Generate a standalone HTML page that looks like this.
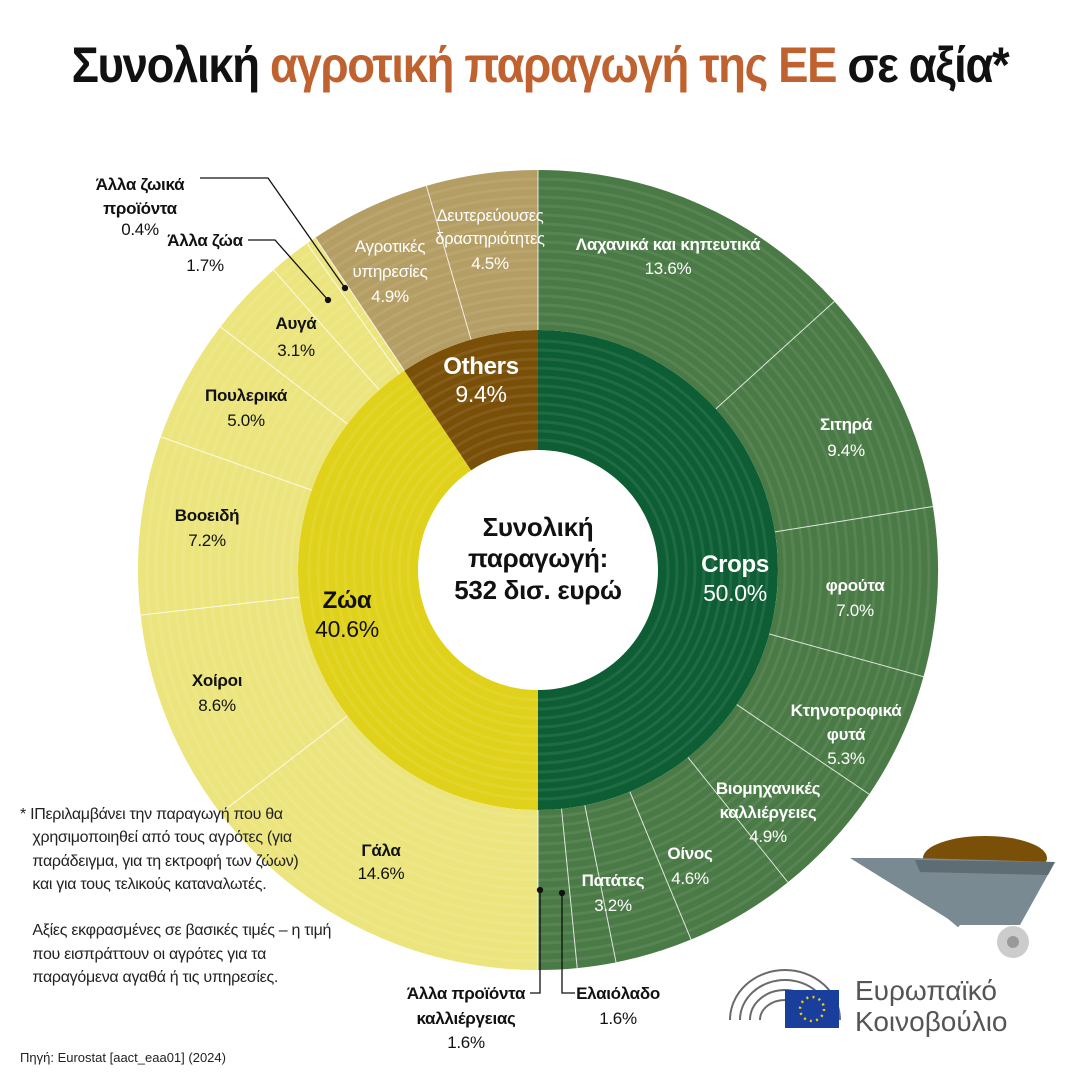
<!DOCTYPE html>
<html><head><meta charset="utf-8">
<style>
html,body{margin:0;padding:0;background:#fff;}
body{width:1080px;height:1080px;position:relative;overflow:hidden;font-family:"Liberation Sans",sans-serif;}
.title{position:absolute;left:0;top:36px;width:1080px;text-align:center;font-size:50px;font-weight:bold;color:#111;letter-spacing:-1.5px;transform:scaleX(0.91);transform-origin:540px 0;}
.title span{color:#c0622f;}
svg text{font-family:"Liberation Sans",sans-serif;}
.foot{position:absolute;left:20px;top:803px;font-size:16px;line-height:23.3px;color:#222;letter-spacing:-0.3px;}
.src{position:absolute;left:20px;top:1050px;font-size:13px;color:#222;}
</style></head><body>
<div class="title">Συνολική <span>αγροτική παραγωγή της ΕΕ</span> σε αξία*</div>
<svg id="chart" width="1080" height="1080" style="position:absolute;left:0;top:0">
<g id="slices"></g>
<g id="rings"></g>
<circle cx="538" cy="570" r="120" fill="#fff"/>
<g font-size="17" text-anchor="middle" fill="#fff" letter-spacing="-0.3">
<text x="668" y="250" font-weight="bold">Λαχανικά και κηπευτικά</text><text x="668" y="274">13.6%</text>
<text x="846" y="430" font-weight="bold">Σιτηρά</text><text x="846" y="456">9.4%</text>
<text x="855" y="591" font-weight="bold">φρούτα</text><text x="855" y="616">7.0%</text>
<text x="846" y="716" font-weight="bold">Κτηνοτροφικά</text><text x="846" y="740" font-weight="bold">φυτά</text><text x="846" y="764">5.3%</text>
<text x="768" y="794" font-weight="bold">Βιομηχανικές</text><text x="768" y="818" font-weight="bold">καλλιέργειες</text><text x="768" y="842">4.9%</text>
<text x="690" y="859" font-weight="bold">Οίνος</text><text x="690" y="884">4.6%</text>
<text x="613" y="886" font-weight="bold">Πατάτες</text><text x="613" y="911">3.2%</text>
<text x="735" y="572" font-size="24" font-weight="bold">Crops</text><text x="735" y="601" font-size="23">50.0%</text>
<text x="481" y="374" font-size="24" font-weight="bold">Others</text><text x="481" y="402" font-size="23">9.4%</text>
<text x="490" y="221" font-size="16.5">Δευτερεύουσες</text><text x="490" y="244" font-size="16.5">δραστηριότητες</text><text x="490" y="269">4.5%</text>
<text x="390" y="252">Αγροτικές</text><text x="390" y="277">υπηρεσίες</text><text x="390" y="302">4.9%</text>
</g>
<g font-size="17" text-anchor="middle" fill="#111" letter-spacing="-0.3">
<text x="347" y="608" font-size="24" font-weight="bold">Ζώα</text><text x="347" y="637" font-size="23">40.6%</text>
<text x="538" y="536" font-size="26" font-weight="bold">Συνολική</text>
<text x="538" y="567" font-size="26" font-weight="bold">παραγωγή:</text>
<text x="538" y="599" font-size="26" font-weight="bold">532 δισ. ευρώ</text>
<text x="381" y="856" font-weight="bold">Γάλα</text><text x="381" y="879">14.6%</text>
<text x="217" y="686" font-weight="bold">Χοίροι</text><text x="217" y="711">8.6%</text>
<text x="207" y="521" font-weight="bold">Βοοειδή</text><text x="207" y="546">7.2%</text>
<text x="246" y="401" font-weight="bold">Πουλερικά</text><text x="246" y="426">5.0%</text>
<text x="296" y="329" font-weight="bold">Αυγά</text><text x="296" y="356">3.1%</text>
<text x="205" y="246" font-weight="bold">Άλλα ζώα</text><text x="205" y="271">1.7%</text>
<text x="140" y="190" font-weight="bold">Άλλα ζωικά</text><text x="140" y="214" font-weight="bold">προϊόντα</text><text x="140" y="235">0.4%</text>
<text x="466" y="999" font-weight="bold">Άλλα προϊόντα</text><text x="466" y="1024" font-weight="bold">καλλιέργειας</text><text x="466" y="1048">1.6%</text>
<text x="618" y="999" font-weight="bold">Ελαιόλαδο</text><text x="618" y="1024">1.6%</text>
</g>
<g stroke="#111" stroke-width="1.3" fill="none">
<polyline points="200,178 268,178 345,288"/><circle cx="345" cy="288" r="2.5" fill="#111"/>
<polyline points="248,240 275,240 328,300"/><circle cx="328" cy="300" r="2.5" fill="#111"/>
<polyline points="540,890 540,993 530,993"/><circle cx="540" cy="890" r="2.5" fill="#111"/>
<polyline points="562,893 562,993 575,993"/><circle cx="562" cy="893" r="2.5" fill="#111"/>
</g>
<g>
<ellipse cx="985" cy="858" rx="62" ry="22" fill="#7a5008"/>
<path d="M850,858 L915,858 L1055,862 L1020,925 L958,925 Z" fill="#7a8a93"/>
<path d="M915,860 L1055,862 L1048,875 L920,872 Z" fill="#5e6c74"/>
<line x1="900" y1="875" x2="960" y2="925" stroke="#7a8a93" stroke-width="6"/>
<circle cx="1013" cy="942" r="16" fill="#ccc"/><circle cx="1013" cy="942" r="6" fill="#999"/>
</g>
<g fill="none" stroke="#6a6a6a" stroke-width="2">
<path d="M730,1020 A55,50 0 0 1 840,1020"/><path d="M740,1020 A45,40 0 0 1 830,1020"/><path d="M750,1020 A35,30 0 0 1 820,1020"/><path d="M760,1020 A25,20 0 0 1 810,1020"/>
</g>
<rect x="785" y="990" width="54" height="38" fill="#1a3e9c"/>
<circle cx="812" cy="1009" r="12" fill="none" stroke="#f5d000" stroke-width="2.5" stroke-dasharray="2 4.3"/>
<text x="855" y="1000" font-size="28" fill="#555">Ευρωπαϊκό</text>
<text x="855" y="1031" font-size="28" fill="#555">Κοινοβούλιο</text>
</svg>
<div class="foot">* ΙΠεριλαμβάνει την παραγωγή που θα<br>&nbsp;&nbsp;&nbsp;χρησιμοποιηθεί από τους αγρότες (για<br>&nbsp;&nbsp;&nbsp;παράδειγμα, για τη εκτροφή των ζώων)<br>&nbsp;&nbsp;&nbsp;και για τους τελικούς καταναλωτές.<br><br>&nbsp;&nbsp;&nbsp;Αξίες εκφρασμένες σε βασικές τιμές – η τιμή<br>&nbsp;&nbsp;&nbsp;που εισπράττουν οι αγρότες για τα<br>&nbsp;&nbsp;&nbsp;παραγόμενα αγαθά ή τις υπηρεσίες.</div>
<div class="src">Πηγή: Eurostat [aact_eaa01] (2024)</div>
<script>
var cx=538,cy=570;
function pt(r,a){a=a*Math.PI/180;return [cx+r*Math.sin(a),cy-r*Math.cos(a)];}
function arc(r0,r1,a0,a1,fill){
 var l=(a1-a0)>180?1:0;var p0=pt(r1,a0),p1=pt(r1,a1),p2=pt(r0,a1),p3=pt(r0,a0);
 return '<path d="M'+p0+' A'+r1+','+r1+' 0 '+l+' 1 '+p1+' L'+p2+' A'+r0+','+r0+' 0 '+l+' 0 '+p3+' Z" fill="'+fill+'"/>';}
var s='';
var inner=[[50,'#0e5e35'],[40.6,'#e0d21a'],[9.4,'#7a4f08']];
var a=0;inner.forEach(function(d){var b=a+d[0]*3.6;s+=arc(118,240,a,b,d[1]);a=b;});
var crops=[13.6,9.4,7.0,5.3,4.9,4.6,3.2,1.6,1.6],f=50/51.2;
var outer=[];crops.forEach(function(v){outer.push([v*f,'#4a7a45']);});
[14.6,8.6,7.2,5.0,3.1,1.7,0.4].forEach(function(v){outer.push([v,'#ece57e']);});
[4.9,4.5].forEach(function(v){outer.push([v,'#b59e64']);});
a=0;var lines='';
outer.forEach(function(d){var b=a+d[0]*3.6;s+=arc(240,400,a,b,d[1]);var p=pt(240,a),q=pt(400,a);lines+='<line x1="'+p[0]+'" y1="'+p[1]+'" x2="'+q[0]+'" y2="'+q[1]+'" stroke="#fff" stroke-width="1" opacity="0.8"/>';a=b;});
document.getElementById('slices').innerHTML=s+lines;
var r='';for(var rr=130;rr<400;rr+=9){if(Math.abs(rr-240)<4)continue;r+='<circle cx="538" cy="570" r="'+rr+'" fill="none" stroke="#fff" stroke-opacity="0.08" stroke-width="3"/>';}
document.getElementById('rings').innerHTML=r;
</script>
</body></html>
